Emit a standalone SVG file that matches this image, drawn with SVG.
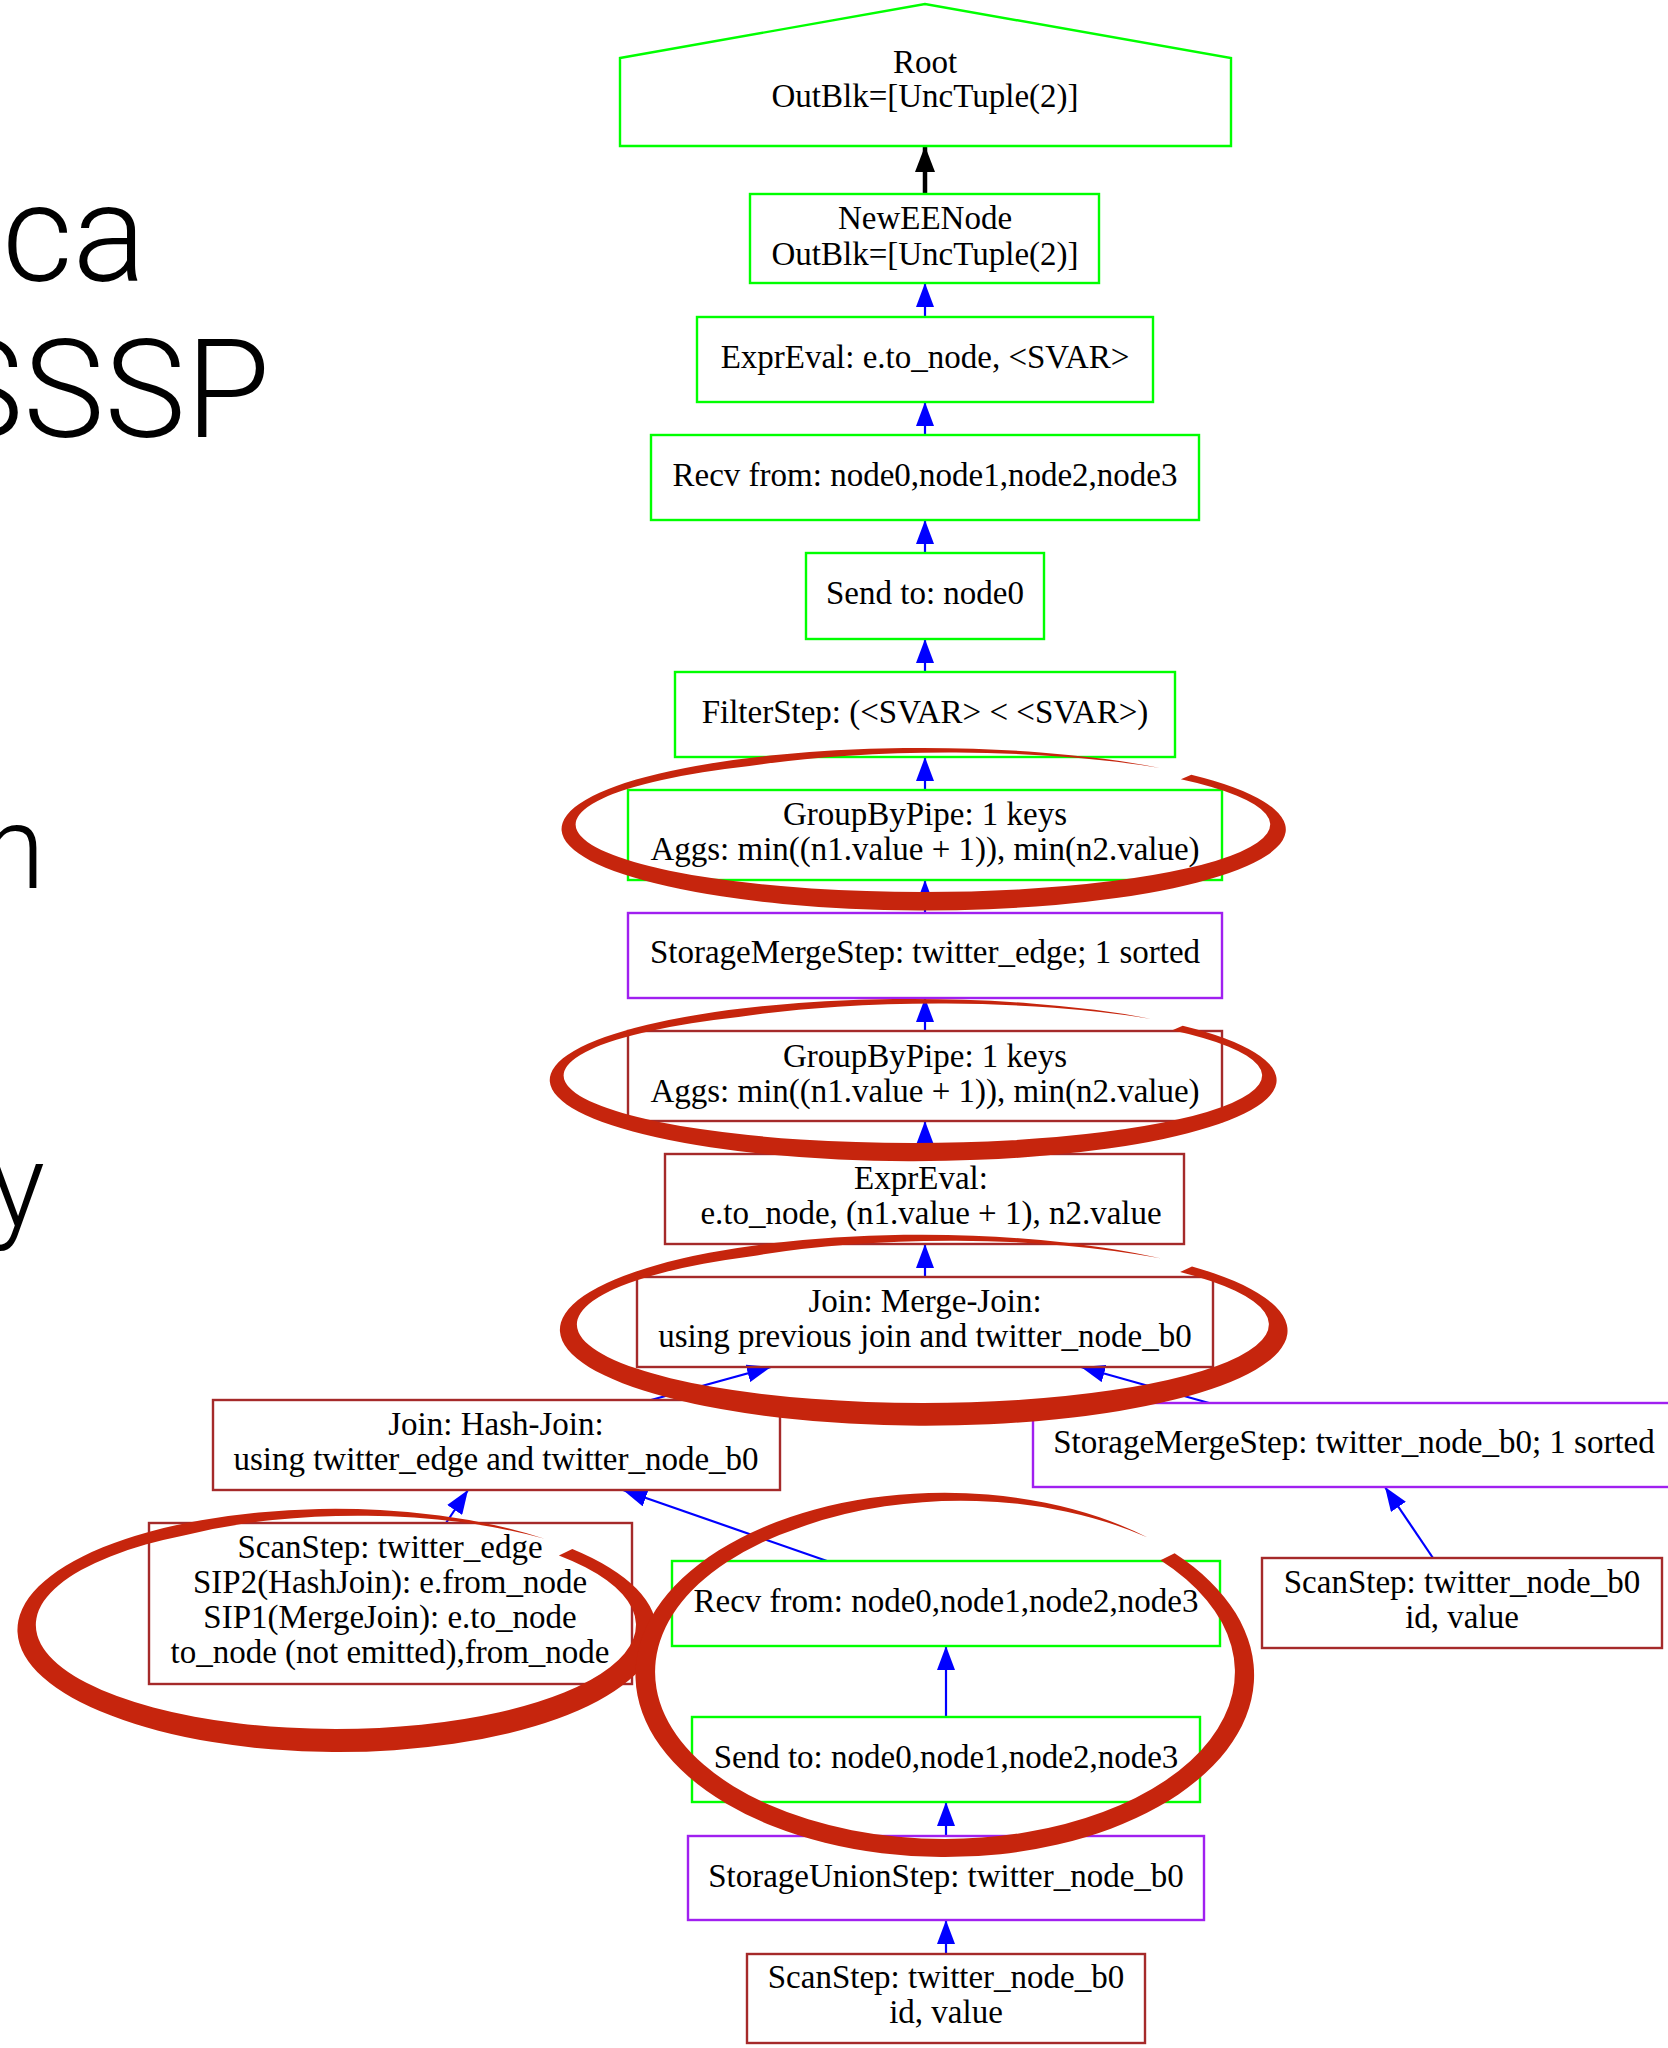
<svg xmlns="http://www.w3.org/2000/svg" width="1668" height="2048" viewBox="0 0 1668 2048">
  <defs>
    <style>
      .slide { font-family: Roboto, "Liberation Sans", "DejaVu Sans", sans-serif; font-weight: 300; fill: #000; }
      .lbl { font-family: "Liberation Serif", "Times New Roman", serif; font-size: 33px; fill: #000; text-anchor: middle; }
      .box { fill: none; stroke-width: 2.4; }
      .g { stroke: #00ff00; }
      .p { stroke: #a020f0; }
      .b { stroke: #a52a2a; }
      .e { stroke: #0000ff; stroke-width: 2.2; fill: none; marker-end: url(#ab); }
      .mark { fill: #c6250d; }
    </style>
    <marker id="ab" viewBox="0 0 24 18" refX="24" refY="9" markerWidth="24" markerHeight="18" markerUnits="userSpaceOnUse" orient="auto">
      <path d="M0,0 L24,9 L0,18 Z" fill="#0000ff"/>
    </marker>
    <marker id="ak" viewBox="0 0 26 20" refX="26" refY="10" markerWidth="26" markerHeight="20" markerUnits="userSpaceOnUse" orient="auto">
      <path d="M0,0 L26,10 L0,20 Z" fill="#000"/>
    </marker>
  </defs>
  <rect width="1668" height="2048" fill="#fff"/>

  <!-- slide text cut off at the left edge -->
  <g id="slide-text">
    <text class="slide" x="146" y="281" font-size="137" text-anchor="end">ca</text>
    <text class="slide" x="270" y="437" font-size="137" text-anchor="end">SSSP</text>
    <text class="slide" x="45" y="888" font-size="116" text-anchor="end">n</text>
    <text class="slide" x="45" y="1226" font-size="116" text-anchor="end">y</text>
  </g>

  <!-- connectors (child to parent) -->
  <g id="connectors">
    <line x1="925" y1="194" x2="925" y2="146" stroke="#000" stroke-width="4.5" marker-end="url(#ak)"/>
    <line class="e" x1="925" y1="317" x2="925" y2="283"/>
    <line class="e" x1="925" y1="435" x2="925" y2="402"/>
    <line class="e" x1="925" y1="553" x2="925" y2="520"/>
    <line class="e" x1="925" y1="672" x2="925" y2="639"/>
    <line class="e" x1="925" y1="790" x2="925" y2="757"/>
    <line class="e" x1="925" y1="913" x2="925" y2="880"/>
    <line class="e" x1="925" y1="1031" x2="925" y2="998"/>
    <line class="e" x1="925" y1="1154" x2="925" y2="1121"/>
    <line class="e" x1="925" y1="1277" x2="925" y2="1244"/>
    <line class="e" x1="651" y1="1400" x2="771" y2="1367"/>
    <line class="e" x1="1209" y1="1403" x2="1081" y2="1367"/>
    <line class="e" x1="446" y1="1523" x2="468" y2="1490"/>
    <line class="e" x1="827" y1="1561" x2="623" y2="1490"/>
    <line class="e" x1="1433" y1="1558" x2="1385" y2="1487"/>
    <line class="e" x1="946" y1="1717" x2="946" y2="1646"/>
    <line class="e" x1="946" y1="1836" x2="946" y2="1802"/>
    <line class="e" x1="946" y1="1954" x2="946" y2="1920"/>
  </g>

  <g id="root">
    <polygon class="box g" points="620,58 925,4 1231,58 1231,146 620,146"/>
    <text class="lbl" x="925" y="73">Root</text>
    <text class="lbl" x="925" y="107">OutBlk=[UncTuple(2)]</text>
  </g>
  <g id="neweenode">
    <rect class="box g" x="750" y="194" width="349" height="89"/>
    <text class="lbl" x="925" y="229">NewEENode</text>
    <text class="lbl" x="925" y="265">OutBlk=[UncTuple(2)]</text>
  </g>
  <g id="expreval-top">
    <rect class="box g" x="697" y="317" width="456" height="85"/>
    <text class="lbl" x="925" y="368">ExprEval: e.to_node, &lt;SVAR&gt;</text>
  </g>
  <g id="recv-top">
    <rect class="box g" x="651" y="435" width="548" height="85"/>
    <text class="lbl" x="925" y="486">Recv from: node0,node1,node2,node3</text>
  </g>
  <g id="send-top">
    <rect class="box g" x="806" y="553" width="238" height="86"/>
    <text class="lbl" x="925" y="604">Send to: node0</text>
  </g>
  <g id="filter">
    <rect class="box g" x="675" y="672" width="500" height="85"/>
    <text class="lbl" x="925" y="723">FilterStep: (&lt;SVAR&gt; &lt; &lt;SVAR&gt;)</text>
  </g>
  <g id="groupby-top">
    <rect class="box g" x="628" y="790" width="594" height="90"/>
    <text class="lbl" x="925" y="825">GroupByPipe: 1 keys</text>
    <text class="lbl" x="925" y="860">Aggs: min((n1.value + 1)), min(n2.value)</text>
  </g>
  <g id="merge-edge">
    <rect class="box p" x="628" y="913" width="594" height="85"/>
    <text class="lbl" x="925" y="963">StorageMergeStep: twitter_edge; 1 sorted</text>
  </g>
  <g id="groupby-low">
    <rect class="box b" x="628" y="1031" width="594" height="90"/>
    <text class="lbl" x="925" y="1067">GroupByPipe: 1 keys</text>
    <text class="lbl" x="925" y="1102">Aggs: min((n1.value + 1)), min(n2.value)</text>
  </g>
  <g id="expreval-low">
    <rect class="box b" x="665" y="1154" width="519" height="90"/>
    <text class="lbl" x="921" y="1189">ExprEval:</text>
    <text class="lbl" x="931" y="1224">e.to_node, (n1.value + 1), n2.value</text>
  </g>
  <g id="merge-join">
    <rect class="box b" x="637" y="1277" width="576" height="90"/>
    <text class="lbl" x="925" y="1312">Join: Merge-Join:</text>
    <text class="lbl" x="925" y="1347">using previous join and twitter_node_b0</text>
  </g>
  <g id="hash-join">
    <rect class="box b" x="213" y="1400" width="567" height="90"/>
    <text class="lbl" x="496" y="1435">Join: Hash-Join:</text>
    <text class="lbl" x="496" y="1470">using twitter_edge and twitter_node_b0</text>
  </g>
  <g id="merge-node">
    <rect class="box p" x="1033" y="1403" width="644" height="84"/>
    <text class="lbl" x="1354" y="1453">StorageMergeStep: twitter_node_b0; 1 sorted</text>
  </g>
  <g id="scan-edge">
    <rect class="box b" x="149" y="1523" width="483" height="161"/>
    <text class="lbl" x="390" y="1558">ScanStep: twitter_edge</text>
    <text class="lbl" x="390" y="1593">SIP2(HashJoin): e.from_node</text>
    <text class="lbl" x="390" y="1628">SIP1(MergeJoin): e.to_node</text>
    <text class="lbl" x="390" y="1663">to_node (not emitted),from_node</text>
  </g>
  <g id="recv-low">
    <rect class="box g" x="672" y="1561" width="548" height="85"/>
    <text class="lbl" x="946" y="1612">Recv from: node0,node1,node2,node3</text>
  </g>
  <g id="scan-node-right">
    <rect class="box b" x="1262" y="1558" width="400" height="90"/>
    <text class="lbl" x="1462" y="1593">ScanStep: twitter_node_b0</text>
    <text class="lbl" x="1462" y="1628">id, value</text>
  </g>
  <g id="send-low">
    <rect class="box g" x="692" y="1717" width="508" height="85"/>
    <text class="lbl" x="946" y="1768">Send to: node0,node1,node2,node3</text>
  </g>
  <g id="union">
    <rect class="box p" x="688" y="1836" width="516" height="84"/>
    <text class="lbl" x="946" y="1887">StorageUnionStep: twitter_node_b0</text>
  </g>
  <g id="scan-node-bottom">
    <rect class="box b" x="747" y="1954" width="398" height="89"/>
    <text class="lbl" x="946" y="1988">ScanStep: twitter_node_b0</text>
    <text class="lbl" x="946" y="2023">id, value</text>
  </g>

  <!-- hand-drawn brush rings, drawn over the plan -->
  <g id="brush-rings" class="mark">
    <path d="M1191.3,774.8 A361,81 0 0 1 667.7,886.3 A361,81 0 0 1 1159.9,767.9 A361,81 0 0 0 749.5,766 A347,67.5 0 0 0 923,892 A347,67.5 0 0 0 1180.9,779.3 Z"/>
    <path d="M1182.7,1025.8 A363,81 0 0 1 656.3,1137.3 A363,81 0 0 1 1151.2,1018.9 A363,81 0 0 0 738.5,1017 A349,67.5 0 0 0 913,1143 A349,67.5 0 0 0 1172.3,1030.3 Z"/>
    <path d="M1192,1266.4 A362,95 0 0 1 667,1397.2 A362,95 0 0 1 1160.5,1258.3 A362,95 0 0 0 750,1256.5 A346,78.5 0 0 0 923,1403 A346,78.5 0 0 0 1180.1,1272 Z"/>
    <path d="M572.3,1549 A318,121 0 0 1 111.1,1715.6 A318,121 0 0 1 544.6,1538.7 A318,121 0 0 0 186,1534.9 A300,104 0 0 0 336,1729 A300,104 0 0 0 558.9,1555.4 Z"/>
    <path d="M1174.6,1553.2 A309,182 0 0 1 726.5,1803.7 A309,182 0 0 1 1147.7,1537.6 A309,182 0 0 0 800,1527.4 A290,167 0 0 0 945,1839 A290,167 0 0 0 1160.5,1560.3 Z"/>
  </g>
</svg>
